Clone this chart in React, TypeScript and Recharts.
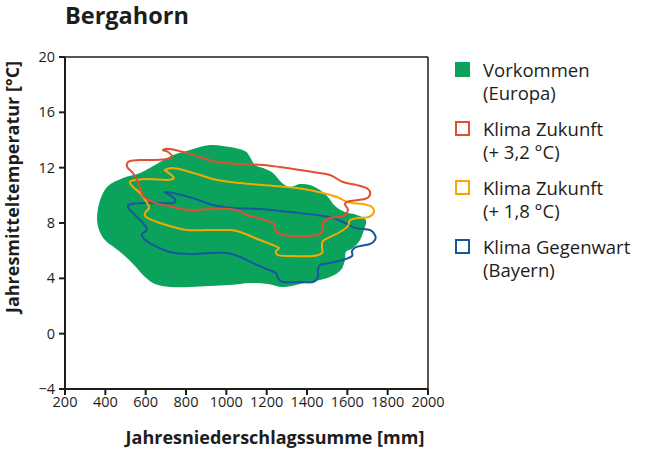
import { ReferenceLine, Scatter, ScatterChart, XAxis, YAxis } from 'recharts'

type Pt = { x: number; y: number }

// Jahresniederschlag [mm] / Jahresmitteltemperatur [°C]
const vorkommenEuropa: Pt[] = [
  { x: 359, y: 8.43 }, { x: 374, y: 9.66 }, { x: 413, y: 10.67 }, { x: 488, y: 11.25 },
  { x: 572, y: 11.61 }, { x: 646, y: 12.19 }, { x: 736, y: 12.91 }, { x: 820, y: 13.28 },
  { x: 919, y: 13.64 }, { x: 1018, y: 13.49 }, { x: 1092, y: 13.2 }, { x: 1117, y: 12.77 },
  { x: 1142, y: 12.19 }, { x: 1182, y: 11.97 }, { x: 1231, y: 11.61 }, { x: 1276, y: 10.89 },
  { x: 1316, y: 10.6 }, { x: 1365, y: 10.82 }, { x: 1415, y: 10.74 }, { x: 1464, y: 10.38 },
  { x: 1504, y: 9.88 }, { x: 1539, y: 9.23 }, { x: 1588, y: 8.79 }, { x: 1648, y: 8.58 },
  { x: 1692, y: 8.21 }, { x: 1682, y: 7.49 }, { x: 1663, y: 6.77 }, { x: 1628, y: 6.19 },
  { x: 1593, y: 5.9 }, { x: 1588, y: 5.32 }, { x: 1568, y: 4.6 }, { x: 1514, y: 4.09 },
  { x: 1440, y: 3.8 }, { x: 1365, y: 3.59 }, { x: 1281, y: 3.37 }, { x: 1206, y: 3.59 },
  { x: 1117, y: 3.66 }, { x: 1018, y: 3.51 }, { x: 919, y: 3.44 }, { x: 820, y: 3.37 },
  { x: 721, y: 3.37 }, { x: 646, y: 3.59 }, { x: 597, y: 4.09 }, { x: 547, y: 4.89 },
  { x: 497, y: 5.61 }, { x: 448, y: 6.19 }, { x: 398, y: 6.77 }, { x: 369, y: 7.49 },
]

const zukunft32: Pt[] = [
  { x: 507, y: 12.26 }, { x: 522, y: 12.48 }, { x: 572, y: 12.55 }, { x: 646, y: 12.55 },
  { x: 706, y: 12.62 }, { x: 730, y: 12.84 }, { x: 711, y: 13.13 }, { x: 686, y: 13.28 },
  { x: 721, y: 13.35 }, { x: 785, y: 13.13 }, { x: 869, y: 12.77 }, { x: 954, y: 12.41 },
  { x: 1068, y: 12.26 }, { x: 1182, y: 12.19 }, { x: 1301, y: 11.97 }, { x: 1430, y: 11.68 },
  { x: 1514, y: 11.47 }, { x: 1578, y: 10.96 }, { x: 1648, y: 10.74 }, { x: 1702, y: 10.46 },
  { x: 1712, y: 10.02 }, { x: 1687, y: 9.73 }, { x: 1613, y: 9.59 }, { x: 1588, y: 9.37 },
  { x: 1603, y: 8.94 }, { x: 1578, y: 8.5 }, { x: 1514, y: 8.36 }, { x: 1479, y: 8.0 },
  { x: 1479, y: 7.49 }, { x: 1454, y: 7.13 }, { x: 1365, y: 7.06 }, { x: 1281, y: 7.13 },
  { x: 1246, y: 7.42 }, { x: 1236, y: 7.92 }, { x: 1192, y: 8.21 }, { x: 1102, y: 8.58 },
  { x: 1068, y: 8.86 }, { x: 1018, y: 9.01 }, { x: 934, y: 9.01 }, { x: 820, y: 8.94 },
  { x: 736, y: 9.15 }, { x: 636, y: 9.51 }, { x: 587, y: 9.95 }, { x: 572, y: 10.53 },
  { x: 557, y: 11.11 }, { x: 537, y: 11.61 }, { x: 512, y: 11.97 },
]

const zukunft18: Pt[] = [
  { x: 696, y: 11.83 }, { x: 730, y: 11.97 }, { x: 785, y: 11.83 }, { x: 869, y: 11.47 },
  { x: 954, y: 11.11 }, { x: 1068, y: 10.89 }, { x: 1182, y: 10.74 }, { x: 1350, y: 10.53 },
  { x: 1479, y: 10.17 }, { x: 1549, y: 9.88 }, { x: 1588, y: 9.59 }, { x: 1623, y: 9.44 },
  { x: 1677, y: 9.37 }, { x: 1722, y: 9.15 }, { x: 1732, y: 8.79 }, { x: 1707, y: 8.43 },
  { x: 1648, y: 8.36 }, { x: 1613, y: 8.21 }, { x: 1603, y: 7.78 }, { x: 1563, y: 7.35 },
  { x: 1514, y: 6.98 }, { x: 1479, y: 6.7 }, { x: 1474, y: 6.26 }, { x: 1474, y: 5.83 },
  { x: 1430, y: 5.61 }, { x: 1316, y: 5.61 }, { x: 1256, y: 5.68 }, { x: 1246, y: 5.97 },
  { x: 1261, y: 6.19 }, { x: 1231, y: 6.41 }, { x: 1167, y: 6.77 }, { x: 1068, y: 7.35 },
  { x: 1018, y: 7.49 }, { x: 904, y: 7.49 }, { x: 805, y: 7.49 }, { x: 736, y: 7.71 },
  { x: 656, y: 8.07 }, { x: 602, y: 8.43 }, { x: 597, y: 8.72 }, { x: 617, y: 9.08 },
  { x: 607, y: 9.44 }, { x: 572, y: 10.17 }, { x: 537, y: 10.6 }, { x: 522, y: 10.96 },
  { x: 547, y: 11.11 }, { x: 621, y: 11.18 }, { x: 706, y: 11.11 }, { x: 740, y: 11.25 },
  { x: 721, y: 11.54 }, { x: 701, y: 11.76 },
]

const gegenwartBayern: Pt[] = [
  { x: 696, y: 10.24 }, { x: 736, y: 10.17 }, { x: 835, y: 9.8 }, { x: 934, y: 9.3 },
  { x: 1033, y: 9.08 }, { x: 1167, y: 9.01 }, { x: 1316, y: 8.79 }, { x: 1449, y: 8.58 },
  { x: 1529, y: 8.36 }, { x: 1588, y: 8.0 }, { x: 1643, y: 7.63 }, { x: 1712, y: 7.49 },
  { x: 1737, y: 7.13 }, { x: 1737, y: 6.77 }, { x: 1712, y: 6.48 }, { x: 1643, y: 6.26 },
  { x: 1623, y: 5.97 }, { x: 1623, y: 5.61 }, { x: 1578, y: 5.32 }, { x: 1514, y: 5.1 },
  { x: 1464, y: 4.96 }, { x: 1454, y: 4.6 }, { x: 1454, y: 4.09 }, { x: 1430, y: 3.73 },
  { x: 1365, y: 3.73 }, { x: 1281, y: 3.73 }, { x: 1256, y: 4.02 }, { x: 1246, y: 4.38 },
  { x: 1202, y: 4.67 }, { x: 1132, y: 5.1 }, { x: 1068, y: 5.54 }, { x: 1003, y: 5.83 },
  { x: 919, y: 5.83 }, { x: 820, y: 5.75 }, { x: 721, y: 5.9 }, { x: 636, y: 6.41 },
  { x: 592, y: 6.84 }, { x: 582, y: 7.2 }, { x: 607, y: 7.56 }, { x: 572, y: 8.21 },
  { x: 537, y: 8.72 }, { x: 512, y: 9.15 }, { x: 527, y: 9.37 }, { x: 587, y: 9.44 },
  { x: 671, y: 9.44 }, { x: 736, y: 9.44 }, { x: 745, y: 9.73 }, { x: 711, y: 10.09 },
]

const xTicks = [200, 400, 600, 800, 1000, 1200, 1400, 1600, 1800, 2000]
const yTicks = [-4, 0, 4, 8, 12, 16, 20]

const legendLabels = [
  ['Vorkommen', '(Europa)'],
  ['Klima Zukunft', '(+ 3,2 °C)'],
  ['Klima Zukunft', '(+ 1,8 °C)'],
  ['Klima Gegenwart', '(Bayern)'],
]

const GREEN = '#0ba25b'
const RED = '#e0502e'
const ORANGE = '#f6a800'
const BLUE = '#17579f'
const INK = '#1d1d1b'
const FONT = '"Open Sans", "Noto Sans", sans-serif'

// closed catmull-rom through the scaled points
function closedPath(pts: { x: number; y: number }[]) {
  const n = pts.length
  let d = `M${pts[0].x},${pts[0].y}`
  for (let i = 0; i < n; i++) {
    const p0 = pts[(i - 1 + n) % n]
    const p1 = pts[i]
    const p2 = pts[(i + 1) % n]
    const p3 = pts[(i + 2) % n]
    const c1x = p1.x + (p2.x - p0.x) / 6
    const c1y = p1.y + (p2.y - p0.y) / 6
    const c2x = p2.x - (p3.x - p1.x) / 6
    const c2y = p2.y - (p3.y - p1.y) / 6
    d += `C${c1x},${c1y},${c2x},${c2y},${p2.x},${p2.y}`
  }
  return d + 'Z'
}

const outline = (color: string, filled: boolean) => (props: any) => (
  <path
    d={closedPath(props.points)}
    fill={filled ? color : 'none'}
    stroke={filled ? 'none' : color}
    strokeWidth={2}
    strokeLinejoin="round"
  />
)

const noDot = () => <g />

const fmtTick = (v: number) => (v < 0 ? `\u2212${Math.abs(v)}` : `${v}`)

export default function App() {
  return (
    <div style={{ position: 'absolute', left: 0, top: 0, width: 646, height: 453, background: '#fff', fontFamily: FONT }}>
      <div style={{ position: 'absolute', left: 65, top: 3, fontSize: 23.5, lineHeight: '25px', fontWeight: 700, color: INK }}>
        Bergahorn
      </div>

      <ScatterChart width={646} height={453} margin={{ top: 57, right: 218, left: 0, bottom: 0 }}>
        <XAxis
          type="number"
          dataKey="x"
          domain={[200, 2000]}
          ticks={xTicks}
          interval={0}
          height={64}
          tickSize={6}
          tickMargin={2}
          stroke={INK}
          strokeWidth={2}
          tick={{ fill: INK, fontSize: 14.5, fontFamily: FONT }}
          label={{
            content: () => (
              <text x={275} y={444} textAnchor="middle" fontSize={18} fontWeight={700} fill={INK} fontFamily={FONT}>
                Jahresniederschlagssumme [mm]
              </text>
            ),
          }}
        />
        <YAxis
          type="number"
          dataKey="y"
          domain={[-4, 20]}
          ticks={yTicks}
          interval={0}
          width={65}
          tickSize={6}
          tickMargin={4}
          stroke={INK}
          strokeWidth={2}
          tickFormatter={fmtTick}
          tick={{ fill: INK, fontSize: 14.5, fontFamily: FONT }}
          label={{
            content: () => (
              <text
                x={0}
                y={0}
                transform="translate(19,187) rotate(-90)"
                textAnchor="middle"
                fontSize={18}
                fontWeight={700}
                fill={INK}
                fontFamily={FONT}
              >
                Jahresmitteltemperatur [°C]
              </text>
            ),
          }}
        />
        <ReferenceLine y={20} stroke={INK} strokeWidth={1.5} />
        <ReferenceLine x={2000} stroke={INK} strokeWidth={1.5} />

        <Scatter data={vorkommenEuropa} fill={GREEN} line={outline(GREEN, true)} lineType="joint" shape={noDot} isAnimationActive={false} />
        <Scatter data={gegenwartBayern} fill={BLUE} line={outline(BLUE, false)} lineType="joint" shape={noDot} isAnimationActive={false} />
        <Scatter data={zukunft18} fill={ORANGE} line={outline(ORANGE, false)} lineType="joint" shape={noDot} isAnimationActive={false} />
        <Scatter data={zukunft32} fill={RED} line={outline(RED, false)} lineType="joint" shape={noDot} isAnimationActive={false} />
      </ScatterChart>

      <div style={{ position: 'absolute', left: 455, top: 58, color: INK, fontSize: 18.5, lineHeight: '23px' }}>
        {legendLabels.map((lines, i) => {
          const color = [GREEN, RED, ORANGE, BLUE][i]
          return (
            <div key={i} style={{ display: 'flex', alignItems: 'flex-start', height: 59 }}>
              <div
                style={{
                  width: 15,
                  height: 15,
                  marginTop: 4,
                  boxSizing: 'border-box',
                  background: i === 0 ? color : 'transparent',
                  border: i === 0 ? 'none' : `2px solid ${color}`,
                }}
              />
              <div style={{ marginLeft: 13 }}>
                <div>{lines[0]}</div>
                <div>{lines[1]}</div>
              </div>
            </div>
          )
        })}
      </div>
    </div>
  )
}
